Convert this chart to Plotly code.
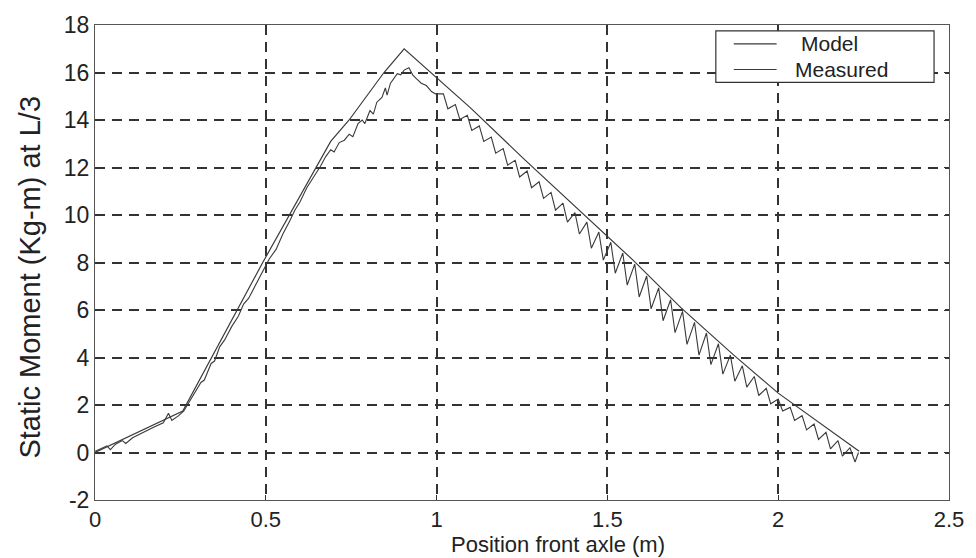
import plotly.graph_objects as go

# ---- data ----
model_x = [0.0, 0.257, 0.491, 0.569, 0.647, 0.69, 0.744, 0.80, 0.846, 0.905,
           1.0, 1.1, 1.26, 1.575, 1.715, 1.87, 2.0, 2.237]
model_y = [0.0, 1.75, 8.0, 10.0, 12.0, 13.1, 14.0, 15.1, 16.0, 17.0,
           15.8, 14.5, 12.3, 8.1, 6.1, 4.1, 2.5, 0.05]

meas_x = [0.00, 0.02, 0.035, 0.045, 0.06, 0.08, 0.09, 0.11, 0.14, 0.17, 0.20, 0.215, 0.225, 0.245,
          0.26, 0.28, 0.30, 0.31, 0.32, 0.34, 0.35, 0.365, 0.38, 0.40, 0.42, 0.435, 0.45, 0.47,
          0.49, 0.51, 0.53, 0.55, 0.57, 0.585, 0.60, 0.62, 0.64, 0.66, 0.675, 0.69, 0.70, 0.715,
          0.73, 0.744, 0.755, 0.77, 0.782, 0.79, 0.805, 0.815, 0.825, 0.84, 0.85, 0.855, 0.865,
          0.875, 0.885, 0.895, 0.905, 0.919, 0.93, 0.94, 0.955, 0.97, 0.985, 0.997,
          1.020, 1.033, 1.055, 1.068, 1.090, 1.103, 1.125, 1.138, 1.160, 1.173, 1.195, 1.208,
          1.230, 1.243, 1.265, 1.278, 1.300, 1.313, 1.335, 1.348, 1.370, 1.383, 1.405, 1.418,
          1.440, 1.453, 1.475, 1.488, 1.510, 1.523, 1.545, 1.558, 1.580, 1.593, 1.615, 1.628,
          1.650, 1.663, 1.685, 1.698, 1.720, 1.733, 1.755, 1.768, 1.790, 1.803, 1.825, 1.838,
          1.860, 1.873, 1.895, 1.908, 1.930, 1.943, 1.965, 1.978, 2.000, 2.013, 2.035, 2.048,
          2.070, 2.083, 2.105, 2.118, 2.140, 2.153, 2.175, 2.188, 2.210, 2.225, 2.235]
meas_y = [0.05, 0.20, 0.28, 0.12, 0.35, 0.50, 0.38, 0.62, 0.85, 1.05, 1.25, 1.65, 1.35, 1.55,
          1.75, 2.25, 2.70, 2.95, 3.05, 3.75, 3.85, 4.45, 4.75, 5.30, 5.75, 6.25, 6.50, 7.05,
          7.60, 8.15, 8.55, 9.20, 9.75, 10.20, 10.55, 11.15, 11.60, 12.05, 12.45, 12.75, 12.65, 13.05,
          13.15, 13.40, 13.30, 13.85, 14.00, 13.85, 14.40, 14.25, 14.75, 14.95, 15.35, 15.05, 15.55,
          15.75, 15.95, 15.90, 16.10, 16.20, 15.90, 15.75, 15.55, 15.45, 15.20, 15.10,
          15.10, 14.47, 14.65, 14.02, 14.20, 13.56, 13.75, 13.10, 13.28, 12.60, 12.80, 12.10,
          12.30, 11.60, 11.85, 11.15, 11.40, 10.70, 10.95, 10.20, 10.50, 9.70, 10.10, 9.20,
          9.70, 8.60, 9.28, 8.10, 8.85, 7.55, 8.40, 7.05, 7.93, 6.55, 7.43, 6.05,
          6.93, 5.55, 6.43, 5.05, 5.94, 4.55, 5.48, 4.10, 5.03, 3.70, 4.58, 3.30,
          4.10, 3.00, 3.65, 2.75, 3.20, 2.40, 2.70, 2.05, 2.25, 1.75, 1.90, 1.35,
          1.55, 0.95, 1.20, 0.55, 0.85, 0.15, 0.50, -0.15, 0.20, -0.40, 0.00]

x_ticks = [0, 0.5, 1, 1.5, 2, 2.5]
x_tick_text = ["0", "0.5", "1", "1.5", "2", "2.5"]
y_ticks = [-2, 0, 2, 4, 6, 8, 10, 12, 14, 16, 18]
y_tick_text = ["-2", "0", "2", "4", "6", "8", "10", "12", "14", "16", "18"]
series_names = ["Model", "Measured"]
x_title = "Position front axle (m)"
y_title = "Static Moment (Kg-m) at L/3"

ink = "#333333"
text_col = "#222222"
font_family = "Liberation Sans, Arial, sans-serif"

W, H = 976, 558
L, R, T, B = 95, 24, 20, 58
PW, PH = W - L - R, H - T - B


def px_x(p):
    return (p - L) / PW


def px_y(p):
    return (H - B - p) / PH


fig = go.Figure()
fig.add_trace(go.Scatter(x=model_x, y=model_y, mode="lines", name=series_names[0],
                         line=dict(color="#3a3a3a", width=1.2), showlegend=False))
fig.add_trace(go.Scatter(x=meas_x, y=meas_y, mode="lines", name=series_names[1],
                         line=dict(color="#3a3a3a", width=1.1), showlegend=False))

axis_common = dict(
    showline=True, linecolor="#555555", linewidth=1, mirror="ticks",
    ticks="inside", ticklen=5, tickcolor=ink, tickwidth=1,
    showgrid=True, gridcolor=ink, gridwidth=2, griddash="10px,7px",
    zeroline=False,
    tickfont=dict(family=font_family, size=22, color=text_col),
)

fig.update_xaxes(range=[0, 2.5], tickvals=x_ticks, ticktext=x_tick_text, **axis_common)
fig.update_yaxes(range=[-2, 18], tickvals=y_ticks, ticktext=y_tick_text,
                 tickfont=dict(family=font_family, size=23, color=text_col),
                 **{k: v for k, v in axis_common.items() if k != "tickfont"})

# axis titles
annotations = [
    dict(text=x_title, xref="paper", yref="paper", x=px_x(560), y=px_y(545),
         xanchor="center", yanchor="middle", showarrow=False, borderpad=0,
         font=dict(family=font_family, size=22, color=text_col)),
    dict(text=y_title, xref="paper", yref="paper", x=px_x(30), y=px_y(275),
         xanchor="center", yanchor="middle", showarrow=False, textangle=-90,
         font=dict(family=font_family, size=29, color=text_col)),
]

# legend box drawn like the original
shapes = [
    dict(type="rect", xref="paper", yref="paper",
         x0=px_x(718), x1=px_x(937), y0=px_y(78), y1=px_y(26),
         line=dict(color=ink, width=1.2), fillcolor="white", layer="above"),
    dict(type="line", xref="paper", yref="paper",
         x0=px_x(736), x1=px_x(779), y0=px_y(39), y1=px_y(39),
         line=dict(color="#3a3a3a", width=1.2), layer="above"),
    dict(type="line", xref="paper", yref="paper",
         x0=px_x(736), x1=px_x(779), y0=px_y(65), y1=px_y(65),
         line=dict(color="#3a3a3a", width=1.1), layer="above"),
]
annotations += [
    dict(text=series_names[0], xref="paper", yref="paper", x=px_x(802), y=px_y(39),
         xanchor="left", yanchor="middle", showarrow=False, borderpad=0,
         font=dict(family=font_family, size=21, color=text_col)),
    dict(text=series_names[1], xref="paper", yref="paper", x=px_x(796), y=px_y(65),
         xanchor="left", yanchor="middle", showarrow=False, borderpad=0,
         font=dict(family=font_family, size=21, color=text_col)),
]

fig.update_layout(
    width=W, height=H,
    margin=dict(l=L, r=R, t=T, b=B),
    paper_bgcolor="white", plot_bgcolor="white",
    font=dict(family=font_family, color=text_col),
    showlegend=False,
    shapes=shapes,
    annotations=annotations,
)

fig.write_html("out.html")
